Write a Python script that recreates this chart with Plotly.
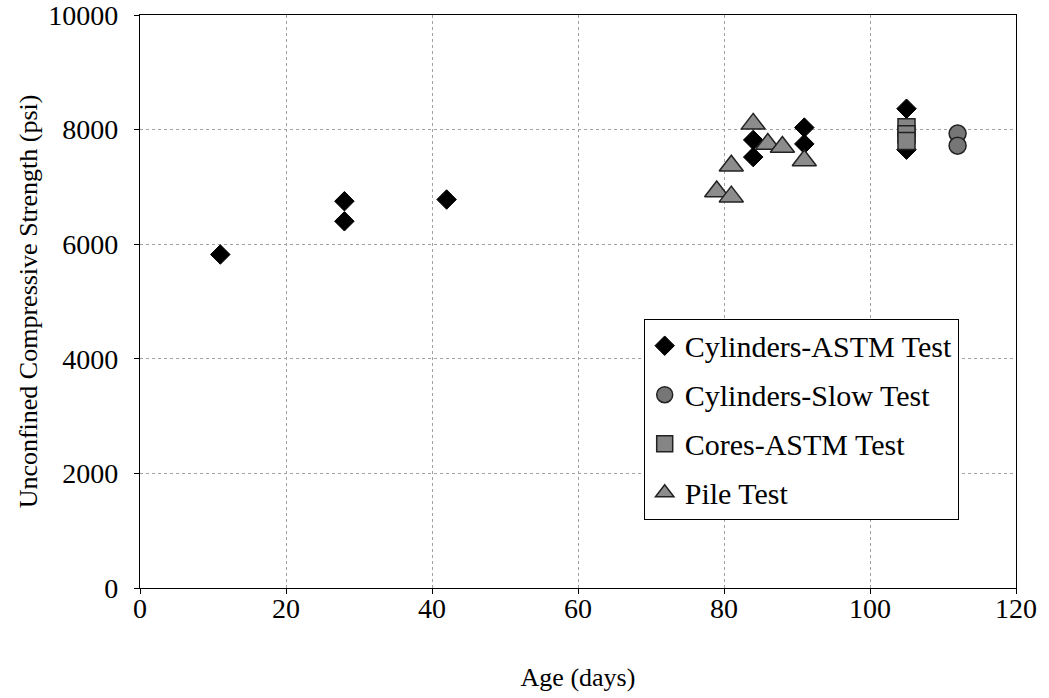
import plotly.graph_objects as go

# ---- data ----
cyl_astm_age = [11, 28, 28, 42, 84, 84, 91, 91, 105, 105]
cyl_astm_psi = [5820, 6750, 6400, 6780, 7820, 7520, 8035, 7750, 8365, 7650]

cyl_slow_age = [112, 112]
cyl_slow_psi = [7930, 7720]

cores_age = [105, 105, 105]
cores_psi = [8040, 7920, 7800]

pile_age = [79, 81, 81, 84, 86, 88, 91]
pile_psi = [6920, 6830, 7370, 8100, 7750, 7695, 7460]

x_ticks = [0, 20, 40, 60, 80, 100, 120]
y_ticks = [0, 2000, 4000, 6000, 8000, 10000]
y_tick_text = ["0", "2000", "4000", "6000", "8000", "10000"]

FONT = "Liberation Serif, Times New Roman, serif"

fig = go.Figure()
fig.add_trace(go.Scatter(
    x=cyl_astm_age, y=cyl_astm_psi, mode="markers", name="Cylinders-ASTM Test",
    legendgroup="a",
    marker=dict(symbol="diamond", size=15, color="black", line=dict(color="black", width=1))))
fig.add_trace(go.Scatter(
    x=cyl_slow_age, y=cyl_slow_psi, mode="markers", name="Cylinders-Slow Test",
    legendgroup="b",
    marker=dict(symbol="circle", size=17, color="#767676", line=dict(color="#222222", width=1.5))))
fig.add_trace(go.Scatter(
    x=cores_age, y=cores_psi, mode="markers", name="Cores-ASTM Test",
    legendgroup="c",
    marker=dict(symbol="square", size=17, color="#858585", line=dict(color="#222222", width=1.5))))
fig.add_trace(go.Scatter(
    x=pile_age, y=pile_psi, mode="markers", name="Pile Test",
    legendgroup="d",
    marker=dict(symbol="triangle-up", size=21, color="#8c8c8c", line=dict(color="#222222", width=1.5))))

axis_common = dict(
    showline=True, linecolor="black", linewidth=1.3, mirror=True,
    ticks="outside", ticklen=5, tickcolor="black",
    showgrid=True, gridcolor="#a0a0a0", griddash="dot", gridwidth=1,
    zeroline=False, automargin=False, ticklabeloverflow="allow",
    tickfont=dict(family=FONT, size=28, color="black"),
)

fig.update_layout(
    width=1049, height=698, autosize=False,
    margin=dict(l=140, r=33, t=15, b=110),
    paper_bgcolor="white", plot_bgcolor="white",
    font=dict(family=FONT, color="black"),
    xaxis=dict(range=[0, 120], tickvals=x_ticks, ticklabelstandoff=-10, **axis_common,
               title=dict(text="Age (days)", font=dict(family=FONT, size=26, color="black"), standoff=45)),
    yaxis=dict(range=[0, 10000], tickvals=y_ticks, ticktext=y_tick_text, ticklabelstandoff=10,
               **axis_common,
               title=dict(text="Unconfined Compressive Strength (psi)",
                          font=dict(family=FONT, size=26, color="black"), standoff=3)),
    legend=dict(
        x=0.575, y=0.47, xanchor="left", yanchor="top",
        bgcolor="white", bordercolor="black", borderwidth=1,
        font=dict(family=FONT, size=30, color="black"),
        tracegroupgap=7, traceorder="grouped",
        entrywidth=310, entrywidthmode="pixels",
    ),
    showlegend=True,
)

fig.write_html(
    "out.html",
    config={"displayModeBar": False},
    post_script="document.body.style.margin='0';document.body.style.overflow='hidden';",
)
